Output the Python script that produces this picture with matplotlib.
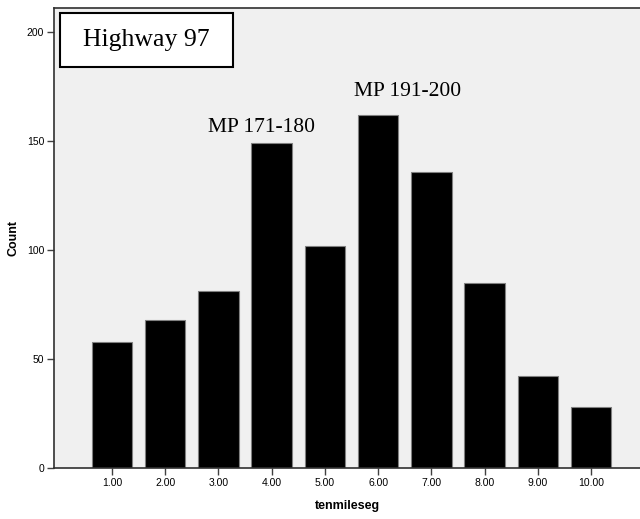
import matplotlib
matplotlib.use('Agg')
import matplotlib.pyplot as plt
from matplotlib.patches import Rectangle

# counts per ten-mile segment
segments = [1, 2, 3, 4, 5, 6, 7, 8, 9, 10]
counts = [58, 68, 81, 149, 102, 162, 136, 85, 42, 28]
tick_labels = ['%.2f' % s for s in segments]
y_ticks = [0, 50, 100, 150, 200]

fig = plt.figure(figsize=(6.4, 5.19), dpi=100)
ax = fig.add_axes([54 / 640, 51 / 519, 586 / 640, 460 / 519])
ax.set_facecolor('#f0f0f0')

ax.bar(segments, counts, width=0.76, color='black', edgecolor='#808080', linewidth=0.8, zorder=2)

ax.set_xlim(-0.09, 10.92)
ax.set_ylim(0, 211)
ax.set_xticks(segments)
ax.set_xticklabels(tick_labels, fontsize=7.5, family='Liberation Sans')
ax.set_yticks(y_ticks)
ax.set_yticklabels([str(t) for t in y_ticks], fontsize=7.5, family='Liberation Sans')
ax.tick_params(axis='both', direction='out', length=5, width=1, color='#404040', pad=2)

ax.spines['right'].set_visible(False)
for side in ['left', 'top', 'bottom']:
    ax.spines[side].set_color('#303030')
    ax.spines[side].set_linewidth(1.2)

ax.set_xlabel('tenmileseg', fontsize=9, fontweight='bold', family='Liberation Sans', labelpad=9)
ax.set_ylabel('Count', fontsize=9, fontweight='bold', family='Liberation Sans', labelpad=5)

ax.text(3.8, 156, 'MP 171-180', fontsize=15.5, family='Liberation Serif', ha='center', va='center')
ax.text(6.55, 172.5, 'MP 191-200', fontsize=15.5, family='Liberation Serif', ha='center', va='center')

# title box
ax.add_patch(Rectangle((0.0102, 0.872), 0.2953, 0.117, transform=ax.transAxes,
                       facecolor='white', edgecolor='black', linewidth=1.5, zorder=3))
ax.text(0.158, 0.93, 'Highway 97', transform=ax.transAxes, fontsize=18.5, family='Liberation Serif',
        ha='center', va='center', zorder=4)

fig.savefig('out.png', dpi=100)
